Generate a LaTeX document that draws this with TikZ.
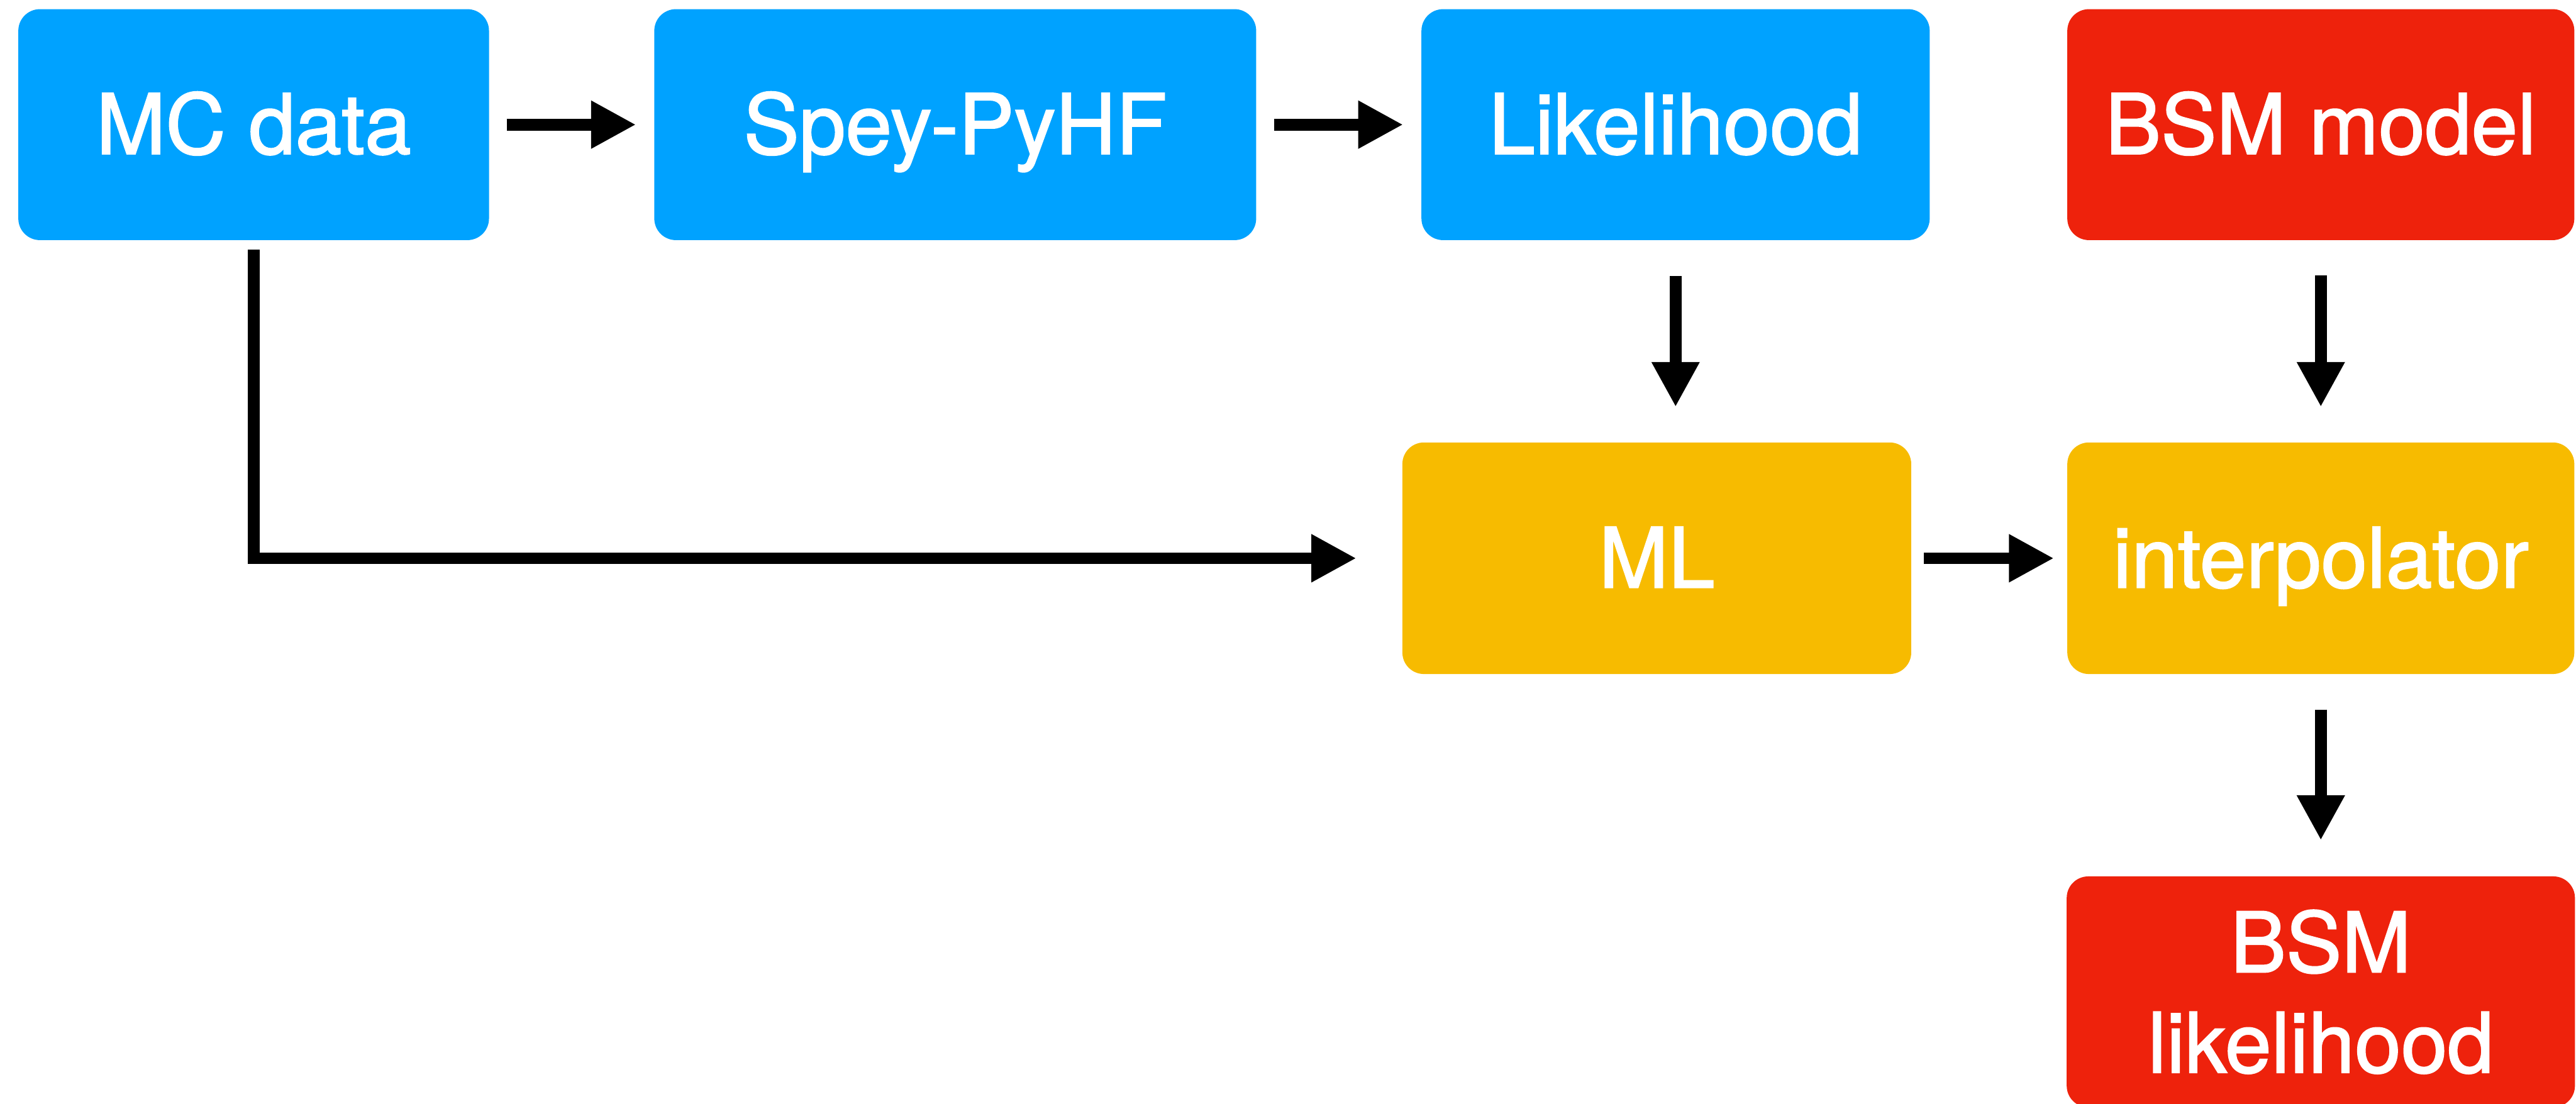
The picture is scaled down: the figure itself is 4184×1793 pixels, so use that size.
\documentclass[tikz,border=0pt]{standalone}
\usepackage{fontspec}
\setmainfont{TeX Gyre Heros}
\newfontfamily\boxfont{TeX Gyre Heros}[FakeBold=1.6]
\usetikzlibrary{arrows.meta}
\definecolor{kblue}{HTML}{00A2FF}
\definecolor{kred}{HTML}{EE220C}
\definecolor{kyellow}{HTML}{F7BB00}
\tikzset{
  boxbase/.style={rectangle, rounded corners=0.35cm, inner sep=0pt, minimum height=3.75cm,
    text=white, font=\boxfont\fontsize{38.5}{46.4}\selectfont},
  oneline/.style={boxbase, text height=0.95cm, text depth=0pt},
  arr/.style={line width=0.19cm, -{Triangle[length=0.73cm, width=0.73cm]}},
}
\begin{document}
\begin{tikzpicture}[x=0.01cm, y=-0.01cm]
\useasboundingbox (0,0) rectangle (4184,1793);
\begin{scope}
\clip (0,0) rectangle (4184,1793);
\node[oneline, fill=kblue, minimum width=7.64cm] (mc) at (412,202.5) {MC data};
\node[oneline, fill=kblue, minimum width=9.77cm] (spey) at (1551.5,202.5) {Spey-PyHF};
\node[oneline, fill=kblue, minimum width=8.25cm] (lik) at (2721.5,202.5) {Likelihood};
\node[oneline, fill=kred, minimum width=8.23cm] (bsm) at (3769.5,202.5) {BSM model};
\node[oneline, fill=kyellow, minimum width=8.26cm, minimum height=3.76cm] (ml) at (2691,907) {ML};
\node[oneline, fill=kyellow, minimum width=8.23cm, minimum height=3.76cm] (interp) at (3769.5,907) {interpolator};
\node[boxbase, fill=kred, minimum width=8.25cm, align=center] (bsml) at (3769.5,1611.5) {BSM\\likelihood};

\draw[arr, shorten <=0.28cm, shorten >=0.29cm] (mc.east) -- (spey.west);
\draw[arr, shorten <=0.28cm, shorten >=0.29cm] (spey.east) -- (lik.west);
\draw[arr, shorten <=0.58cm, shorten >=0.57cm] (lik.south) -- (lik.south |- ml.north);
\draw[arr, shorten <=0.57cm, shorten >=0.57cm] (bsm.south) -- (interp.north);
\draw[arr, shorten <=0.15cm, shorten >=0.74cm] (mc.south) |- (ml.west);
\draw[arr, shorten <=0.20cm, shorten >=0.21cm] (ml.east) -- (interp.west);
\draw[arr, shorten <=0.57cm, shorten >=0.58cm] (interp.south) -- (bsml.north);
\end{scope}
\end{tikzpicture}
\end{document}
